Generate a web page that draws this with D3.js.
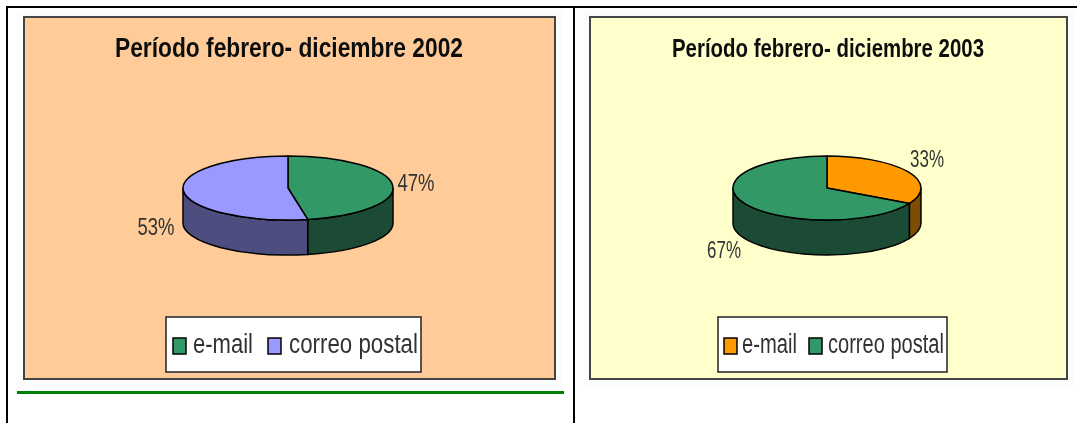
<!DOCTYPE html>
<html lang="es">
<head>
<meta charset="utf-8">
<title>Período febrero- diciembre</title>
<script src="https://cdn.jsdelivr.net/npm/d3@7"></script>
<style>
body { margin: 0; background: #fff; }
svg { display: block; }
text { font-family: "Liberation Sans", Arial, sans-serif; }
</style>
</head>
<body>
<script>
// data
var categories = ["e-mail", "correo postal"];
var titles = ["Período febrero- diciembre 2002", "Período febrero- diciembre 2003"];
var values2002 = [47, 53];
var values2003 = [33, 67];
var colors2002 = ["#339966", "#9999ff"];
var colors2003 = ["#ff9900", "#339966"];
var sides2002 = ["#1c4c34", "#4e4e80"];
var sides2003 = ["#7f4d00", "#1c4c34"];

var w = 1077, h = 423;
var svg = d3.select("body").append("svg").attr("width", w).attr("height", h);

// the source is an upscaled screenshot, so everything inside the panels is a bit soft
svg.append("defs").append("filter").attr("id", "soft")
  .append("feGaussianBlur").attr("stdDeviation", 0.45);

// table lines
function rule(x1, y1, x2, y2, color, width) {
  svg.append("line").attr("x1", x1).attr("y1", y1).attr("x2", x2).attr("y2", y2)
    .attr("stroke", color).attr("stroke-width", width);
}
rule(6, 7, 1077, 7, "#000", 2);
rule(7, 6, 7, 423, "#000", 2);
rule(574, 6, 574, 423, "#000", 2);
rule(17, 392.5, 564, 392.5, "#008000", 3);

var pie = d3.pie().value(function(d) { return d; }).sort(null);

function drawPanel(o) {
  svg.append("rect").attr("x", o.x - 7).attr("y", 10).attr("width", o.w + 14).attr("height", 378)
    .attr("fill", "#fcfcfc");
  var g = svg.append("g").attr("filter", "url(#soft)");
  g.append("rect").attr("x", o.x).attr("y", 17).attr("width", o.w).attr("height", 362)
    .attr("fill", o.bg).attr("stroke", "#444").attr("stroke-width", 2);

  // title sits outside the blurred group's text flow check, squeezed like the original
  g.append("text").attr("x", o.titleX).attr("y", 57).attr("text-anchor", "middle")
    .attr("font-size", o.titleSize).attr("font-weight", "bold").attr("fill", "#111")
    .attr("textLength", o.titleLen).attr("lengthAdjust", "spacingAndGlyphs")
    .text(o.title);

  var rx = o.rx, ry = 32, depth = 35;
  var p = g.append("g").attr("transform", "translate(" + o.cx + ",188)");
  var px = function(a) { return rx * Math.sin(a); };
  var py = function(a) { return -ry * Math.cos(a); };
  var arcs = pie(o.values);

  // walls: only the part of each slice on the front half shows
  arcs.forEach(function(d, i) {
    var a0 = Math.max(d.startAngle, Math.PI / 2), a1 = Math.min(d.endAngle, Math.PI * 1.5);
    if (a1 <= a0) return;
    var large = a1 - a0 > Math.PI ? 1 : 0;
    p.append("path")
      .attr("d", "M" + px(a0) + "," + py(a0) +
        "A" + rx + "," + ry + " 0 " + large + " 1 " + px(a1) + "," + py(a1) +
        "V" + (py(a1) + depth) +
        "A" + rx + "," + ry + " 0 " + large + " 0 " + px(a0) + "," + (py(a0) + depth) + "Z")
      .attr("fill", o.sides[i]).attr("stroke", "#000").attr("stroke-width", 1.5);
  });

  // top face
  arcs.forEach(function(d, i) {
    var large = d.endAngle - d.startAngle > Math.PI ? 1 : 0;
    p.append("path")
      .attr("d", "M0,0L" + px(d.startAngle) + "," + py(d.startAngle) +
        "A" + rx + "," + ry + " 0 " + large + " 1 " + px(d.endAngle) + "," + py(d.endAngle) + "Z")
      .attr("fill", o.colors[i]).attr("stroke", "#000").attr("stroke-width", 1.5);
  });

  // percent labels
  o.values.forEach(function(v, i) {
    g.append("text").attr("x", o.labels[i][0]).attr("y", o.labels[i][1])
      .attr("text-anchor", "middle").attr("font-size", 23).attr("fill", "#333")
      .attr("textLength", o.labelLen).attr("lengthAdjust", "spacingAndGlyphs")
      .text(v + "%");
  });

  // legend
  var l = g.append("g").attr("transform", "translate(" + o.legendX + ",317)");
  l.append("rect").attr("width", o.legendW).attr("height", 55).attr("fill", "#fff")
    .attr("stroke", "#222").attr("stroke-width", 1.5);
  categories.forEach(function(c, i) {
    l.append("rect").attr("x", o.keyX[i]).attr("y", 21).attr("width", 13).attr("height", 16)
      .attr("fill", o.colors[i]).attr("stroke", "#000").attr("stroke-width", 1.5);
    l.append("text").attr("x", o.textX[i]).attr("y", 36).attr("font-size", 27).attr("fill", "#333")
      .attr("textLength", o.textLen[i]).attr("lengthAdjust", "spacingAndGlyphs").text(c);
  });
}

drawPanel({ x: 24, w: 531, bg: "#ffcc99", title: titles[0], titleX: 289, titleLen: 348, titleSize: 27,
  values: values2002, colors: colors2002, sides: sides2002, cx: 288, rx: 105,
  labels: [[416, 191], [156, 235]], labelLen: 37,
  legendX: 166, legendW: 255, keyX: [7, 102], textX: [27, 123], textLen: [60, 129] });
drawPanel({ x: 590, w: 477, bg: "#ffffcc", title: titles[1], titleX: 828, titleLen: 312, titleSize: 25,
  values: values2003, colors: colors2003, sides: sides2003, cx: 827, rx: 94,
  labels: [[927, 167], [724, 258]], labelLen: 34,
  legendX: 718, legendW: 229, keyX: [6, 91], textX: [24, 110], textLen: [55, 116] });
</script>
</body>
</html>
